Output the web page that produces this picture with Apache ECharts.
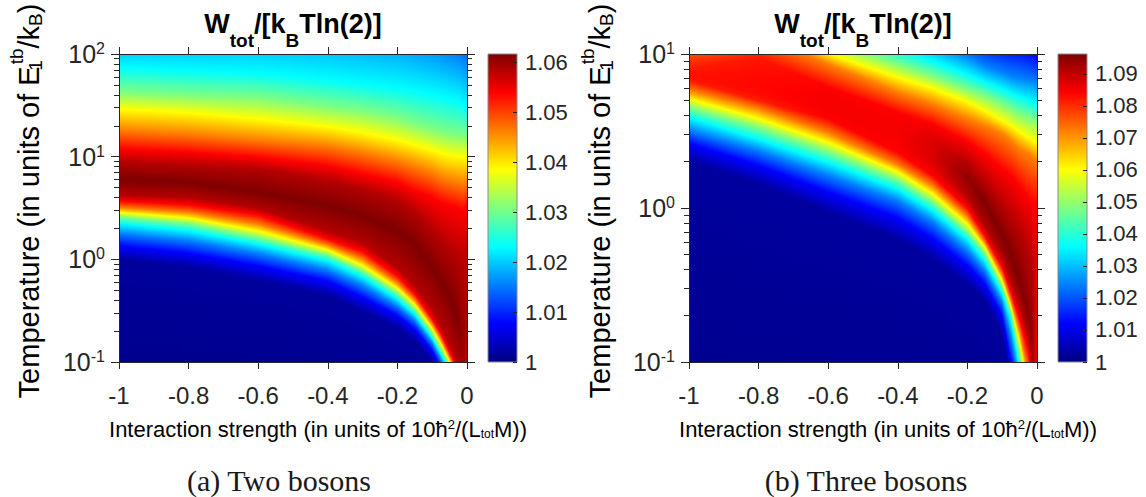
<!DOCTYPE html>
<html>
<head>
<meta charset="utf-8">
<title>Work in units of k_B T ln 2</title>
<script src="https://cdn.jsdelivr.net/npm/echarts@6/dist/echarts.min.js"></script>
<style>
  html, body { margin: 0; padding: 0; background: #ffffff; }
  #chart { width: 1146px; height: 497px; }
</style>
</head>
<body>
<div id="chart"></div>
<script>
// Interaction strength columns (units of 10ħ²/(L_tot M)), shared by both panels
const strength = [-1, -0.8, -0.6, -0.4, -0.3, -0.2, -0.15, -0.1, -0.075, -0.05, -0.025, -0.0125, 0];

// Two bosons. Each column lists sample points from hot to cold:
// log10 T of the point, and W_tot/[k_B T ln2] there.
const twoNodeLogT = [
  [2, 1.870, 1.627, 1.464, 1.260, 1.075, 0.945, 0.782, 0.627, 0.571, 0.503, 0.458, 0.416, 0.351, 0.250, 0.133, 0.000, -2],
  [2, 1.838, 1.594, 1.429, 1.221, 1.042, 0.912, 0.750, 0.604, 0.532, 0.458, 0.403, 0.351, 0.279, 0.182, 0.058, -0.078, -2],
  [2, 1.812, 1.571, 1.367, 1.162, 0.994, 0.880, 0.653, 0.500, 0.435, 0.344, 0.276, 0.214, 0.149, 0.058, -0.065, -0.208, -2],
  [2, 1.750, 1.487, 1.292, 1.107, 0.912, 0.766, 0.523, 0.279, 0.198, 0.140, 0.091, 0.045, -0.013, -0.104, -0.214, -0.354, -2],
  [2, 1.708, 1.448, 1.234, 1.042, 0.831, 0.685, 0.425, 0.166, 0.078, 0.003, -0.062, -0.110, -0.169, -0.256, -0.370, -0.506, -2],
  [2, 1.666, 1.377, 1.162, 0.961, 0.750, 0.571, 0.286, -0.078, -0.159, -0.231, -0.282, -0.331, -0.386, -0.458, -0.549, -0.672, -2],
  [2, 1.636, 1.318, 1.117, 0.906, 0.669, 0.458, 0.149, -0.256, -0.338, -0.396, -0.442, -0.487, -0.536, -0.597, -0.679, -0.792, -2],
  [2, 1.604, 1.269, 1.065, 0.847, 0.604, 0.279, -0.078, -0.484, -0.581, -0.630, -0.675, -0.721, -0.766, -0.818, -0.890, -1.003, -2],
  [2, 1.584, 1.244, 1.036, 0.799, 0.555, 0.182, -0.208, -0.646, -0.727, -0.779, -0.825, -0.873, -0.922, -0.981, -1.058, -1.156, -2],
  [2, 1.562, 1.221, 1.016, 0.773, 0.523, 0.084, -0.338, -0.825, -0.906, -0.955, -0.994, -1.036, -1.084, -1.143, -1.214, -1.328, -2],
  [2, 1.545, 1.211, 1.000, 0.750, 0.500, 0.019, -0.597, -1.036, -1.084, -1.133, -1.182, -1.231, -1.279, -1.344, -1.425, -1.539, -2],
  [2, 1.500, 1.205, 1.000, 0.734, 0.474, -0.078, -0.857, -1.117, -1.166, -1.214, -1.263, -1.312, -1.360, -1.425, -1.506, -1.604, -2],
  [2, 1.481, 1.195, 0.994, 0.750, 0.523, 0.182, -0.597, -1.247, -1.344, -1.393, -1.442, -1.490, -1.539, -1.604, -1.685, -1.782, -2]
];
const twoNodeW = [
  [1.0203, 1.0231, 1.0308, 1.0385, 1.0462, 1.0539, 1.0585, 1.0616, 1.0585, 1.0539, 1.0462, 1.0385, 1.0308, 1.0231, 1.0154, 1.0077, 1.0018, 1.0000],
  [1.0203, 1.0231, 1.0308, 1.0385, 1.0462, 1.0539, 1.0585, 1.0616, 1.0585, 1.0539, 1.0462, 1.0385, 1.0308, 1.0231, 1.0154, 1.0077, 1.0018, 1.0000],
  [1.0203, 1.0231, 1.0308, 1.0385, 1.0462, 1.0539, 1.0585, 1.0616, 1.0585, 1.0539, 1.0462, 1.0385, 1.0308, 1.0231, 1.0154, 1.0077, 1.0018, 1.0000],
  [1.0197, 1.0231, 1.0308, 1.0385, 1.0462, 1.0539, 1.0585, 1.0616, 1.0585, 1.0539, 1.0462, 1.0385, 1.0308, 1.0231, 1.0154, 1.0077, 1.0018, 1.0000],
  [1.0191, 1.0231, 1.0308, 1.0385, 1.0462, 1.0539, 1.0585, 1.0616, 1.0585, 1.0539, 1.0462, 1.0385, 1.0308, 1.0231, 1.0154, 1.0077, 1.0018, 1.0000],
  [1.0185, 1.0231, 1.0308, 1.0385, 1.0462, 1.0539, 1.0585, 1.0616, 1.0585, 1.0539, 1.0462, 1.0385, 1.0308, 1.0231, 1.0154, 1.0077, 1.0018, 1.0000],
  [1.0179, 1.0231, 1.0308, 1.0385, 1.0462, 1.0539, 1.0585, 1.0616, 1.0585, 1.0539, 1.0462, 1.0385, 1.0308, 1.0231, 1.0154, 1.0077, 1.0018, 1.0000],
  [1.0172, 1.0231, 1.0308, 1.0385, 1.0462, 1.0539, 1.0585, 1.0616, 1.0585, 1.0539, 1.0462, 1.0385, 1.0308, 1.0231, 1.0154, 1.0077, 1.0018, 1.0000],
  [1.0166, 1.0231, 1.0308, 1.0385, 1.0462, 1.0539, 1.0585, 1.0616, 1.0585, 1.0539, 1.0462, 1.0385, 1.0308, 1.0231, 1.0154, 1.0077, 1.0018, 1.0000],
  [1.0160, 1.0231, 1.0308, 1.0385, 1.0462, 1.0539, 1.0585, 1.0616, 1.0585, 1.0539, 1.0462, 1.0385, 1.0308, 1.0231, 1.0154, 1.0077, 1.0018, 1.0000],
  [1.0154, 1.0231, 1.0308, 1.0385, 1.0462, 1.0539, 1.0585, 1.0616, 1.0585, 1.0539, 1.0462, 1.0385, 1.0308, 1.0231, 1.0154, 1.0077, 1.0018, 1.0000],
  [1.0148, 1.0231, 1.0308, 1.0385, 1.0462, 1.0539, 1.0585, 1.0604, 1.0585, 1.0539, 1.0462, 1.0385, 1.0308, 1.0231, 1.0154, 1.0077, 1.0018, 1.0000],
  [1.0142, 1.0231, 1.0308, 1.0385, 1.0462, 1.0539, 1.0573, 1.0585, 1.0573, 1.0539, 1.0462, 1.0385, 1.0308, 1.0231, 1.0154, 1.0077, 1.0018, 1.0000]
];

// Three bosons, same layout (first and last points lie beyond the plotted range)
const threeNodeLogT = [
  [2.5, 1.584, 1.487, 1.390, 1.292, 1.195, 1.097, 0.903, 0.881, 0.866, 0.848, 0.827, 0.766, 0.708, 0.654, 0.589, 0.506, 0.420, 0.307, -2.6],
  [2.5, 1.563, 1.476, 1.390, 1.303, 1.216, 1.130, 0.978, 0.881, 0.784, 0.740, 0.697, 0.647, 0.580, 0.524, 0.448, 0.372, 0.275, 0.156, -2.6],
  [2.5, 1.346, 1.260, 1.173, 1.087, 1.004, 0.935, 0.784, 0.719, 0.675, 0.632, 0.580, 0.489, 0.426, 0.366, 0.297, 0.212, 0.104, -0.026, -2.6],
  [2.5, 1.238, 1.130, 1.032, 0.935, 0.848, 0.751, 0.621, 0.556, 0.498, 0.433, 0.361, 0.281, 0.234, 0.184, 0.123, 0.048, -0.065, -0.206, -2.6],
  [2.5, 1.195, 1.087, 0.955, 0.857, 0.777, 0.675, 0.545, 0.448, 0.361, 0.286, 0.210, 0.145, 0.091, 0.041, -0.013, -0.089, -0.197, -0.331, -2.6],
  [2.5, 1.130, 0.989, 0.866, 0.771, 0.690, 0.578, 0.433, 0.286, 0.199, 0.080, 0.000, -0.056, -0.106, -0.154, -0.203, -0.277, -0.374, -0.494, -2.6],
  [2.5, 1.097, 0.924, 0.816, 0.729, 0.632, 0.535, 0.351, 0.156, 0.037, -0.115, -0.180, -0.223, -0.253, -0.292, -0.342, -0.407, -0.494, -0.602, -2.6],
  [2.5, 1.065, 0.881, 0.773, 0.675, 0.567, 0.481, 0.253, 0.004, -0.180, -0.320, -0.385, -0.435, -0.474, -0.509, -0.554, -0.613, -0.699, -0.807, -2.6],
  [2.5, 1.054, 0.859, 0.745, 0.643, 0.535, 0.437, 0.210, -0.082, -0.310, -0.472, -0.548, -0.602, -0.639, -0.677, -0.725, -0.840, -0.991, -1.143, -2.6],
  [2.5, 1.043, 0.844, 0.723, 0.610, 0.496, 0.383, 0.145, -0.169, -0.472, -0.623, -0.721, -0.797, -0.872, -0.948, -1.035, -1.143, -1.251, -1.381, -2.6],
  [2.5, 1.026, 0.831, 0.701, 0.589, 0.459, 0.351, 0.069, -0.299, -0.688, -0.829, -0.926, -1.078, -1.186, -1.251, -1.316, -1.403, -1.511, -1.641, -2.6],
  [2.5, 1.011, 0.827, 0.688, 0.578, 0.437, 0.329, 0.037, -0.429, -0.861, -1.035, -1.143, -1.229, -1.294, -1.359, -1.424, -1.511, -1.619, -1.749, -2.6],
  [2.5, 0.989, 0.823, 0.675, 0.567, 0.420, 0.307, 0.026, -0.212, -0.515, -0.948, -1.381, -1.489, -1.576, -1.662, -1.727, -1.814, -1.922, -2.030, -2.6]
];
const threeNodeW = [
  [1.0000, 1.0120, 1.0241, 1.0361, 1.0481, 1.0601, 1.0722, 1.0818, 1.0824, 1.0827, 1.0824, 1.0818, 1.0722, 1.0601, 1.0481, 1.0361, 1.0241, 1.0120, 1.0029, 1.0000],
  [1.0000, 1.0120, 1.0241, 1.0361, 1.0481, 1.0601, 1.0722, 1.0820, 1.0832, 1.0837, 1.0833, 1.0813, 1.0722, 1.0601, 1.0481, 1.0361, 1.0241, 1.0120, 1.0029, 1.0000],
  [1.0000, 1.0120, 1.0241, 1.0361, 1.0481, 1.0601, 1.0722, 1.0842, 1.0848, 1.0851, 1.0848, 1.0842, 1.0722, 1.0601, 1.0481, 1.0361, 1.0241, 1.0120, 1.0029, 1.0000],
  [1.0000, 1.0120, 1.0241, 1.0361, 1.0481, 1.0601, 1.0722, 1.0842, 1.0847, 1.0851, 1.0847, 1.0842, 1.0722, 1.0601, 1.0481, 1.0361, 1.0241, 1.0120, 1.0029, 1.0000],
  [1.0000, 1.0120, 1.0241, 1.0361, 1.0481, 1.0601, 1.0722, 1.0842, 1.0871, 1.0875, 1.0871, 1.0842, 1.0722, 1.0601, 1.0481, 1.0361, 1.0241, 1.0120, 1.0029, 1.0000],
  [1.0000, 1.0120, 1.0241, 1.0361, 1.0481, 1.0601, 1.0722, 1.0842, 1.0914, 1.0943, 1.0914, 1.0842, 1.0722, 1.0601, 1.0481, 1.0361, 1.0241, 1.0120, 1.0029, 1.0000],
  [1.0000, 1.0120, 1.0241, 1.0361, 1.0481, 1.0601, 1.0722, 1.0842, 1.0914, 1.0962, 1.0914, 1.0842, 1.0722, 1.0601, 1.0481, 1.0361, 1.0241, 1.0120, 1.0029, 1.0000],
  [1.0000, 1.0120, 1.0241, 1.0361, 1.0481, 1.0601, 1.0722, 1.0842, 1.0914, 1.0962, 1.0914, 1.0842, 1.0722, 1.0601, 1.0481, 1.0361, 1.0241, 1.0120, 1.0029, 1.0000],
  [1.0000, 1.0120, 1.0241, 1.0361, 1.0481, 1.0601, 1.0722, 1.0842, 1.0914, 1.0962, 1.0914, 1.0842, 1.0722, 1.0601, 1.0481, 1.0361, 1.0241, 1.0120, 1.0029, 1.0000],
  [1.0000, 1.0120, 1.0241, 1.0361, 1.0481, 1.0601, 1.0722, 1.0842, 1.0914, 1.0962, 1.0914, 1.0842, 1.0722, 1.0601, 1.0481, 1.0361, 1.0241, 1.0120, 1.0029, 1.0000],
  [1.0000, 1.0120, 1.0241, 1.0361, 1.0481, 1.0601, 1.0722, 1.0842, 1.0914, 1.0952, 1.0914, 1.0842, 1.0722, 1.0601, 1.0481, 1.0361, 1.0241, 1.0120, 1.0029, 1.0000],
  [1.0000, 1.0120, 1.0241, 1.0361, 1.0481, 1.0601, 1.0722, 1.0842, 1.0914, 1.0938, 1.0914, 1.0842, 1.0722, 1.0601, 1.0481, 1.0361, 1.0241, 1.0120, 1.0029, 1.0000],
  [1.0000, 1.0120, 1.0241, 1.0361, 1.0481, 1.0601, 1.0722, 1.0842, 1.0851, 1.0856, 1.0854, 1.0842, 1.0722, 1.0601, 1.0481, 1.0361, 1.0241, 1.0120, 1.0029, 1.0000]
];

// Colour-scale ranges and colourbar tick labels
const rangeTwo = [1, 1.0616];
const rangeThree = [1, 1.0962];
const barTicksTwo = [1, 1.01, 1.02, 1.03, 1.04, 1.05, 1.06];
const barTicksThree = [1, 1.01, 1.02, 1.03, 1.04, 1.05, 1.06, 1.07, 1.08, 1.09];

// Plotted temperature decades (log10) and the multipliers that get minor ticks
const decadesTwo = [-1, 2];
const decadesThree = [-1, 1];
const minorFactors = [2, 3, 4, 5, 6, 7, 8, 9];

// Jet colour map
const jet = ['#00007f', '#0000ff', '#007fff', '#00ffff', '#7fff7f', '#ffff00', '#ff7f00', '#ff0000', '#7f0000'];

const FONT = '"Liberation Sans", Arial, Helvetica, sans-serif';
const SERIF = '"Liberation Serif", "Times New Roman", serif';
const AX = '#262626';

function colorOf(v, range) {
  const t = Math.max(0, Math.min(1, (v - range[0]) / (range[1] - range[0])));
  return echarts.color.lerp(t, jet);
}

function minorExps(span) {
  const out = [];
  for (let d = span[0]; d < span[1]; d++) {
    minorFactors.forEach(f => out.push(d + Math.log10(f)));
  }
  return out;
}

// Value along one column profile at pixel height y (profile ordered top to bottom)
function profileAt(ys, ws, y) {
  if (y <= ys[0]) return ws[0];
  for (let i = 1; i < ys.length; i++) {
    if (y <= ys[i]) {
      const d = ys[i] - ys[i - 1];
      return d > 0 ? ws[i - 1] + (ws[i] - ws[i - 1]) * (y - ys[i - 1]) / d : ws[i];
    }
  }
  return ws[ws.length - 1];
}

// Shaded map between two neighbouring strength columns: matching sample points
// of the two columns are joined, and each 1-px pixel column gets a vertical gradient.
function meshRenderer(nodeT, nodeW, span, range) {
  return function (params, api) {
    const k = api.value(2);
    const colA = nodeT[k].map(t => api.coord([strength[k], t]));
    const colB = nodeT[k + 1].map(t => api.coord([strength[k + 1], t]));
    const top = api.coord([strength[k], span[1]])[1];
    const bottom = api.coord([strength[k], span[0]])[1];
    const xa = colA[0][0], xb = colB[0][0];
    const h = bottom - top;
    const children = [];
    for (let sx = Math.round(xa); sx < Math.round(xb); sx++) {
      const g = (sx + 0.5 - xa) / (xb - xa);
      const ys = colA.map((p, i) => p[1] + (colB[i][1] - p[1]) * g);
      const ws = nodeW[k].map((w, i) => w + (nodeW[k + 1][i] - w) * g);
      const stops = [{offset: 0, color: colorOf(profileAt(ys, ws, top), range)}];
      for (let i = 0; i < ys.length; i++) {
        if (ys[i] > top && ys[i] < bottom) {
          stops.push({offset: (ys[i] - top) / h, color: colorOf(ws[i], range)});
        }
      }
      stops.push({offset: 1, color: colorOf(profileAt(ys, ws, bottom), range)});
      children.push({
        type: 'rect',
        silent: true,
        shape: {x: sx, y: top, width: 1, height: h},
        style: {fill: new echarts.graphic.LinearGradient(0, 0, 0, 1, stops)}
      });
    }
    return {type: 'group', children: children};
  };
}

function barRenderer(range) {
  return function (params, api) {
    const p0 = api.coord([0, range[1]]);
    const p1 = api.coord([1, range[0]]);
    const stops = jet.map((c, i) => ({offset: i / (jet.length - 1), color: c}));
    return {
      type: 'rect',
      shape: {x: p0[0], y: p0[1], width: p1[0] - p0[0], height: p1[1] - p0[1]},
      style: {fill: new echarts.graphic.LinearGradient(0, 1, 0, 0, stops), stroke: '#8a8a8a', lineWidth: 1}
    };
  };
}

const lineStyle = {color: AX, width: 1};

function strengthAxes(g) {
  const base = {
    gridIndex: g, type: 'value', min: -1, max: 0, interval: 0.2, z: 5,
    axisLine: {show: true, onZero: false, lineStyle: lineStyle},
    axisTick: {show: true, inside: false, length: 7, lineStyle: lineStyle},
    splitLine: {show: false}
  };
  return [
    Object.assign({}, base, {
      position: 'bottom',
      axisLabel: {show: true, margin: 21, fontSize: 24, fontFamily: FONT, color: AX}
    }),
    Object.assign({}, base, {position: 'top', axisLabel: {show: false}})
  ];
}

function tempAxes(g, span) {
  const major = {
    gridIndex: g, type: 'value', min: span[0], max: span[1], interval: 1, z: 5,
    axisLine: {show: true, onZero: false, lineStyle: lineStyle},
    axisTick: {show: true, inside: false, length: 8, lineStyle: lineStyle},
    splitLine: {show: false}
  };
  const minor = {
    gridIndex: g, type: 'value', min: span[0], max: span[1], z: 5,
    axisLine: {show: false, onZero: false},
    axisTick: {show: true, inside: false, length: 5, customValues: minorExps(span), lineStyle: lineStyle},
    axisLabel: {show: false},
    splitLine: {show: false}
  };
  return [
    Object.assign({}, major, {
      position: 'left',
      axisLabel: {
        show: true, margin: 14,
        formatter: v => '{m|10}{e|' + Math.round(v) + '}',
        rich: {
          m: {fontSize: 25, fontFamily: FONT, color: AX},
          e: {fontSize: 16, fontFamily: FONT, color: AX, padding: [0, 0, 11, 0]}
        }
      }
    }),
    Object.assign({}, minor, {position: 'left'}),
    Object.assign({}, major, {position: 'right', axisLabel: {show: false}}),
    Object.assign({}, minor, {position: 'right'})
  ];
}

function barAxis(g, range, ticks) {
  return {
    gridIndex: g, type: 'value', position: 'right', min: range[0], max: range[1], z: 5,
    axisLine: {show: false, onZero: false},
    axisTick: {show: true, inside: true, length: 4, customValues: ticks, lineStyle: lineStyle},
    axisLabel: {
      show: true, margin: 8, customValues: ticks, fontSize: 22, fontFamily: FONT, color: AX,
      formatter: v => String(+(+v).toFixed(2))
    },
    splitLine: {show: false}
  };
}

const hiddenX = g => ({gridIndex: g, type: 'value', min: 0, max: 1, show: false});

const titleRich = {
  m: {fontSize: 27, fontWeight: 'bold', fontFamily: FONT, fill: '#000'},
  s: {fontSize: 19, fontWeight: 'bold', fontFamily: FONT, fill: '#000', padding: [32, 0, 0, 0]}
};
const xNameRich = {
  m: {fontSize: 22, fontFamily: FONT, fill: '#000'},
  p: {fontSize: 13, fontFamily: FONT, fill: '#000', padding: [0, 0, 10, 0]},
  b: {fontSize: 12, fontFamily: FONT, fill: '#000', padding: [9, 0, 0, 0]}
};
const yNameRich = {
  m: {fontSize: 29, fontFamily: FONT, fill: '#000'},
  p: {fontSize: 19, fontFamily: FONT, fill: '#000', padding: [0, 0, 26, 0]},
  o: {fontSize: 19, fontFamily: FONT, fill: '#000', padding: [13, 0, 0, 0], width: 2},
  b: {fontSize: 19, fontFamily: FONT, fill: '#000', padding: [13, 0, 0, 0]}
};
const titleText = '{m|W}{s|tot}{m|/[k}{s|B}{m|Tln(2)]}';
const xNameText = '{m|Interaction strength (in units of 10ħ}{p|2}{m|/(L}{b|tot}{m|M))}';
const yNameText = '{m|Temperature (in units of E}{o|1}{p|tb}{m|/k}{b|B}{m|)}';

function label(x, y, text, rich, rotation) {
  return {
    type: 'text', x: x, y: y, rotation: rotation || 0, silent: true,
    style: {text: text, rich: rich, align: 'center', verticalAlign: 'middle'}
  };
}
function caption(x, y, text) {
  return {
    type: 'text', x: x, y: y, silent: true,
    style: {text: text, fontSize: 30, fontFamily: SERIF, fill: '#1a1a1a', align: 'center', verticalAlign: 'middle'}
  };
}

const pairItems = strength.slice(0, -1).map((s, k) => [s, 0, k]);

const chart = echarts.init(document.getElementById('chart'), null, {renderer: 'svg'});

chart.setOption({
  animation: false,
  backgroundColor: '#ffffff',
  grid: [
    {left: 119, top: 54, width: 348, height: 308, containLabel: false, outerBoundsMode: 'none'},
    {left: 689, top: 54, width: 348, height: 308, containLabel: false, outerBoundsMode: 'none'},
    {left: 488, top: 54, width: 29, height: 308, containLabel: false, outerBoundsMode: 'none'},
    {left: 1058, top: 54, width: 29, height: 308, containLabel: false, outerBoundsMode: 'none'}
  ],
  xAxis: [].concat(strengthAxes(0), strengthAxes(1), [hiddenX(2), hiddenX(3)]),
  yAxis: [].concat(
    tempAxes(0, decadesTwo),
    tempAxes(1, decadesThree),
    [barAxis(2, rangeTwo, barTicksTwo), barAxis(3, rangeThree, barTicksThree)]
  ),
  series: [
    {
      type: 'custom', xAxisIndex: 0, yAxisIndex: 0, z: 1,
      encode: {x: 0, y: 1},
      data: pairItems,
      renderItem: meshRenderer(twoNodeLogT, twoNodeW, decadesTwo, rangeTwo)
    },
    {
      type: 'custom', xAxisIndex: 2, yAxisIndex: 4, z: 1,
      encode: {x: 0, y: 1},
      data: pairItems,
      renderItem: meshRenderer(threeNodeLogT, threeNodeW, decadesThree, rangeThree)
    },
    {
      type: 'custom', xAxisIndex: 4, yAxisIndex: 8, z: 1,
      encode: {x: 0, y: 1},
      data: [[0, rangeTwo[0]]],
      renderItem: barRenderer(rangeTwo)
    },
    {
      type: 'custom', xAxisIndex: 5, yAxisIndex: 9, z: 1,
      encode: {x: 0, y: 1},
      data: [[0, rangeThree[0]]],
      renderItem: barRenderer(rangeThree)
    }
  ],
  graphic: [
    label(293, 24, titleText, titleRich),
    label(863, 24, titleText, titleRich),
    label(318, 429, xNameText, xNameRich),
    label(888, 429, xNameText, xNameRich),
    label(29, 201, yNameText, yNameRich, Math.PI / 2),
    label(600, 201, yNameText, yNameRich, Math.PI / 2),
    caption(279, 480, '(a) Two bosons'),
    caption(866, 480, '(b) Three bosons')
  ]
});
</script>
</body>
</html>
